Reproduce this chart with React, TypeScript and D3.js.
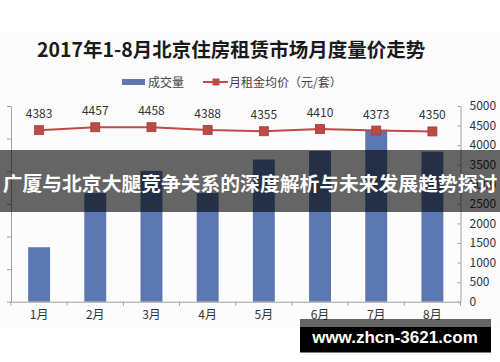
import React, { useEffect, useRef } from 'react';
import * as d3 from 'd3';

const months = ['1月', '2月', '3月', '4月', '5月', '6月', '7月', '8月'];
const volume = [1670, 3330, 4010, 3330, 4360, 4620, 5270, 4600];
const rent = [4383, 4457, 4458, 4388, 4355, 4410, 4373, 4350];
const leftTicks = [0, 1000, 2000, 3000, 4000, 5000, 6000];
const rightTicks = [0, 500, 1000, 1500, 2000, 2500, 3000, 3500, 4000, 4500, 5000];

const title = '2017年1-8月北京住房租赁市场月度量价走势';
const banner = '广厦与北京大腿竞争关系的深度解析与未来发展趋势探讨';
const watermark = 'www.zhcn-3621.com';

const W = 500;
const H = 362;
const FONT = '"Noto Sans CJK SC", "Liberation Sans", sans-serif';

export default function App() {
  const ref = useRef<SVGSVGElement>(null);

  useEffect(() => {
    const svg = d3.select(ref.current);
    svg.selectAll('*').remove();

    const left = 11;
    const right = 460.5;
    const top = 106;
    const bottom = 301.7;

    const x = d3.scaleBand().domain(months).range([left, right]).padding(0);
    const yL = d3.scaleLinear().domain([0, 6000]).range([bottom, top]);
    const yR = d3.scaleLinear().domain([0, 5000]).range([bottom, top]);

    svg.append('rect').attr('width', W).attr('height', H).attr('fill', '#fff');
    svg.append('rect').attr('y', 33).attr('width', W).attr('height', 294).attr('fill', '#fcfcfc');

    // title
    svg.append('text')
      .attr('x', 37).attr('y', 57)
      .attr('font-family', FONT).attr('font-weight', 700).attr('font-size', 19.5)
      .attr('fill', '#1a1a1a')
      .text(title);

    // legend
    const lg = svg.append('g').attr('font-family', FONT).attr('font-size', 12).attr('fill', '#444');
    lg.append('rect').attr('x', 122).attr('y', 79).attr('width', 23).attr('height', 6).attr('fill', '#5b78b2');
    lg.append('text').attr('x', 148).attr('y', 86.5).text('成交量');
    lg.append('line').attr('x1', 203).attr('x2', 228).attr('y1', 82).attr('y2', 82)
      .attr('stroke', '#be4b48').attr('stroke-width', 2);
    lg.append('rect').attr('x', 212.5).attr('y', 78.5).attr('width', 7).attr('height', 7).attr('fill', '#be4b48');
    lg.append('text').attr('x', 229).attr('y', 86.5).text('月租金均价（元/套）');

    // bars
    const bw = x.bandwidth() * 0.39;
    svg.append('g').selectAll('rect').data(volume).enter().append('rect')
      .attr('x', (d, i) => (x(months[i]) as number) + x.bandwidth() / 2 - bw / 2)
      .attr('y', (d) => yL(d))
      .attr('width', bw)
      .attr('height', (d) => bottom - yL(d))
      .attr('fill', '#5b78b2');

    // axes
    const axisColor = '#a0a0a0';
    const gl = svg.append('g').attr('transform', `translate(${left},0)`)
      .call(d3.axisLeft(yL).tickValues(leftTicks).tickSizeInner(4).tickSizeOuter(0).tickFormat(() => ''));
    const gr = svg.append('g').attr('transform', `translate(${right},0)`)
      .call(d3.axisRight(yR).tickValues(rightTicks).tickSizeInner(-3).tickSizeOuter(0).tickPadding(9)
        .tickFormat((d) => String(d)));
    const gx = svg.append('g').attr('transform', `translate(0,${bottom})`)
      .call(d3.axisBottom(x).tickSize(0).tickPadding(12));
    gx.selectAll('.tick text').attr('dy', '0.45em');
    const bounds = [...months.map((m) => x(m) as number), right];
    gx.selectAll('.bound').data(bounds).enter().append('line')
      .attr('x1', (d) => d).attr('x2', (d) => d).attr('y1', 0).attr('y2', 4)
      .attr('stroke', axisColor);

    [gl, gr, gx].forEach((g) => {
      g.selectAll('path, line').attr('stroke', axisColor);
      g.selectAll('text').attr('font-family', FONT).attr('font-size', 12).attr('fill', '#333');
    });

    // rent line
    const cx = (i: number) => (x(months[i]) as number) + x.bandwidth() / 2;
    const line = d3.line<number>().x((d, i) => cx(i)).y((d) => yR(d));
    svg.append('path').datum(rent).attr('d', line)
      .attr('fill', 'none').attr('stroke', '#be4b48').attr('stroke-width', 2);
    svg.append('g').selectAll('rect').data(rent).enter().append('rect')
      .attr('x', (d, i) => cx(i) - 4.5).attr('y', (d) => yR(d) - 4.5)
      .attr('width', 9).attr('height', 9)
      .attr('fill', '#bd4a47').attr('stroke', '#a53c39').attr('stroke-width', 0.8);
    svg.append('g').selectAll('text').data(rent).enter().append('text')
      .attr('x', (d, i) => cx(i)).attr('y', (d) => yR(d) - 12)
      .attr('text-anchor', 'middle')
      .attr('font-family', FONT).attr('font-size', 12).attr('fill', '#333')
      .text((d) => String(d));

    // overlay banner
    svg.append('rect').attr('y', 150).attr('width', W).attr('height', 62).attr('fill', 'rgba(0,0,0,0.6)');
    svg.append('text')
      .attr('x', 250).attr('y', 190.5).attr('text-anchor', 'middle')
      .attr('font-family', FONT).attr('font-weight', 700).attr('font-size', 19.8)
      .attr('fill', '#fff')
      .text(banner);

    // watermark
    svg.append('rect').attr('x', 300).attr('y', 319).attr('width', 191).attr('height', 8).attr('fill', 'rgba(0,0,0,0.6)');
    svg.append('rect').attr('x', 300).attr('y', 327).attr('width', 191).attr('height', 25.5).attr('fill', '#000');
    svg.append('text')
      .attr('x', 395).attr('y', 343).attr('text-anchor', 'middle')
      .attr('font-family', '"Liberation Sans", sans-serif').attr('font-weight', 700).attr('font-size', 17)
      .attr('fill', '#fff')
      .text(watermark);
  }, []);

  return (
    <div style={{ position: 'absolute', left: 0, top: 0 }}>
      <svg ref={ref} width={W} height={H} style={{ display: 'block' }} />
    </div>
  );
}
